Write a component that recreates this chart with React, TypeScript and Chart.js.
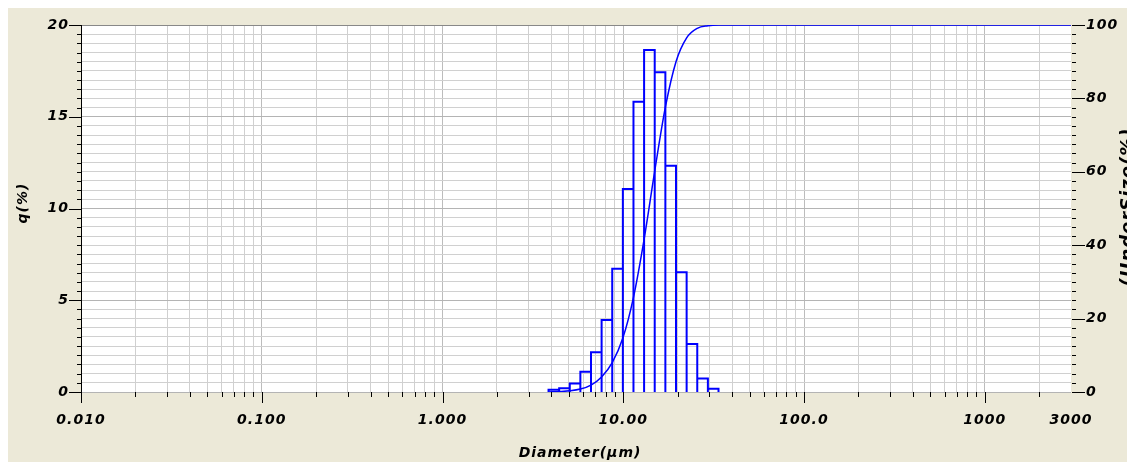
import React, { useEffect, useRef } from 'react';
import { Chart, registerables } from 'chart.js';

Chart.register(...registerables);

// ---- data ----
const binEdges = [3.86, 4.42, 5.06, 5.79, 6.63, 7.59, 8.69, 9.95, 11.39, 13.04, 14.93, 17.1, 19.58, 22.42, 25.67, 29.39, 33.65];
const qPercent = [0.12, 0.2, 0.47, 1.11, 2.16, 3.92, 6.72, 11.06, 15.82, 18.64, 17.42, 12.33, 6.52, 2.62, 0.73, 0.18];
const underSizeX = [3.86, 4.42, 5.06, 5.79, 6.63, 7.59, 8.69, 9.95, 11.39, 13.04, 14.93, 17.1, 19.58, 22.42, 25.67, 29.39, 33.65, 3000];
const underSizeY = [0, 0.12, 0.32, 0.8, 1.9, 4.1, 8.0, 14.7, 25.8, 41.6, 60.2, 77.6, 90.0, 96.5, 99.1, 99.8, 100, 100];

const xMin = 0.01;
const xMax = 3000;
const xTickValues = [0.01, 0.1, 1, 10, 100, 1000, 3000];
const xTickLabels = ['0.010', '0.100', '1.000', '10.00', '100.0', '1000', '3000'];
const xDecades = [0.01, 0.1, 1, 10, 100, 1000];
const qMax = 20;
const qMinorStep = 0.5;
const qMajorStep = 5;
const usMax = 100;
const usMinorStep = 2.5;
const usMajorStep = 20;

const xTitle = 'Diameter(μm)';
const yTitle = 'q(%)';
const y2Title = '(UnderSize(%)';

// ---- derived helpers ----
const xGrid: number[] = [];
xDecades.forEach((d) => {
  for (let m = 1; m <= 9; m++) {
    const v = +(d * m).toPrecision(6);
    if (v <= xMax) xGrid.push(v);
  }
});
if (!xGrid.includes(xMax)) xGrid.push(xMax);

const stepsTo = (max: number, step: number) => {
  const out: number[] = [];
  for (let i = 0; i * step <= max + 1e-9; i++) out.push(+(i * step).toFixed(4));
  return out;
};
const qTicks = stepsTo(qMax, qMinorStep);
const usTicks = stepsTo(usMax, usMinorStep);

const isDecade = (v: number) => xDecades.some((d) => Math.abs(d - v) / d < 1e-6);
const isMult = (v: number, m: number) => Math.abs(v / m - Math.round(v / m)) < 1e-6;

const histPoints: { x: number; y: number }[] = [];
qPercent.forEach((q, i) => {
  histPoints.push({ x: binEdges[i], y: 0 }, { x: binEdges[i], y: q }, { x: binEdges[i + 1], y: q });
});
histPoints.push({ x: binEdges[binEdges.length - 1], y: 0 });

const curvePoints = underSizeX.map((x, i) => ({ x, y: underSizeY[i] }));

const FONT_FAMILY = '"DejaVu Sans"';
const tickFont = { family: FONT_FAMILY, size: 14, weight: 'bold' as const, style: 'italic' as const };

const zeroPad = (s: any) => {
  s.paddingTop = 0;
  s.paddingBottom = 0;
  s.paddingLeft = 0;
  s.paddingRight = 0;
};

const decorPlugin = {
  id: 'decor',
  beforeDraw(chart: any) {
    const { ctx, chartArea: a } = chart;
    ctx.letterSpacing = '1px';
    ctx.save();
    ctx.fillStyle = '#ffffff';
    ctx.fillRect(a.left, a.top, a.right - a.left, a.bottom - a.top);
    ctx.restore();
  },
  afterDraw(chart: any) {
    const { ctx, chartArea: a, scales } = chart;
    const xs = scales.x;
    const ys = scales.y;
    const y2s = scales.y2;
    const al = (v: number) => Math.round(v) + 0.5;
    ctx.save();
    ctx.strokeStyle = '#000000';
    ctx.lineWidth = 1;
    ctx.beginPath();
    // left axis line (extends down into the first decade tick)
    ctx.moveTo(al(a.left), a.top);
    ctx.lineTo(al(a.left), a.bottom + 11);
    // left ticks
    ys.ticks.forEach((t: any) => {
      const py = al(ys.getPixelForValue(t.value));
      const len = isMult(t.value, qMajorStep) ? 12 : 4;
      ctx.moveTo(a.left - len, py);
      ctx.lineTo(a.left, py);
    });
    // bottom ticks
    xs.ticks.forEach((t: any) => {
      if (t.value >= xMax) return;
      const px = al(xs.getPixelForValue(t.value));
      const len = isDecade(t.value) ? 11 : 5;
      ctx.moveTo(px, a.bottom);
      ctx.lineTo(px, a.bottom + len);
    });
    // right ticks
    y2s.ticks.forEach((t: any) => {
      const py = al(y2s.getPixelForValue(t.value));
      const len = isMult(t.value, usMajorStep) ? 13 : 4;
      ctx.moveTo(a.right + 1, py);
      ctx.lineTo(a.right + 1 + len, py);
    });
    ctx.stroke();

    // titles
    ctx.fillStyle = '#000000';
    ctx.font = `italic bold 14px ${FONT_FAMILY}`;
    ctx.textAlign = 'center';
    ctx.textBaseline = 'middle';
    ctx.fillText(xTitle, 572, 445);

    ctx.save();
    ctx.translate(15, 195);
    ctx.rotate(-Math.PI / 2);
    ctx.fillText(yTitle, 0, 0);
    ctx.restore();

    ctx.save();
    ctx.font = `italic bold 18px ${FONT_FAMILY}`;
    ctx.textBaseline = 'alphabetic';
    ctx.translate(1125, 199);
    ctx.rotate(-Math.PI / 2);
    ctx.fillText(y2Title, 0, 0);
    ctx.restore();

    ctx.restore();
  },
};

export default function App() {
  const ref = useRef<HTMLCanvasElement>(null);
  useEffect(() => {
    document.body.style.overflow = 'hidden';
    document.documentElement.style.overflow = 'hidden';
    const chart = new Chart(ref.current as HTMLCanvasElement, {
      type: 'line',
      data: {
        datasets: [
          {
            label: 'UnderSize',
            data: curvePoints,
            xAxisID: 'x',
            yAxisID: 'y2',
            borderColor: '#0000ff',
            borderWidth: 1.5,
            pointRadius: 0,
            cubicInterpolationMode: 'monotone',
            fill: false,
          },
          {
            label: 'q',
            data: histPoints,
            xAxisID: 'x',
            yAxisID: 'y',
            borderColor: '#0000ff',
            borderWidth: 2,
            pointRadius: 0,
            tension: 0,
            fill: false,
          },
        ],
      },
      options: {
        responsive: false,
        maintainAspectRatio: false,
        devicePixelRatio: 1,
        animation: false,
        events: [],
        layout: { padding: { top: 17, left: 0, right: 0, bottom: 0 } },
        plugins: {
          legend: { display: false },
          tooltip: { enabled: false },
          title: { display: false },
        },
        scales: {
          x: {
            type: 'logarithmic',
            position: 'bottom',
            min: xMin,
            max: xMax,
            afterBuildTicks: (s: any) => {
              s.ticks = xGrid.map((v) => ({ value: v, major: isDecade(v) }));
            },
            afterFit: (s: any) => {
              s.height = 70;
              zeroPad(s);
            },
            border: { display: false },
            grid: {
              drawTicks: false,
              lineWidth: 1,
              color: (c: any) => {
                const v = c.tick ? c.tick.value : 0;
                if (v >= xMax) return 'rgba(0,0,0,0)';
                return isDecade(v) ? '#bcbcbc' : '#d0d0d0';
              },
            },
            ticks: {
              autoSkip: false,
              maxRotation: 0,
              minRotation: 0,
              padding: 20,
              color: '#000000',
              font: tickFont,
              callback: (v: any) => {
                const i = xTickValues.findIndex((t) => Math.abs(t - Number(v)) / t < 1e-6);
                return i >= 0 ? xTickLabels[i] : '';
              },
            },
          },
          y: {
            type: 'linear',
            position: 'left',
            min: 0,
            max: qMax,
            afterBuildTicks: (s: any) => {
              s.ticks = qTicks.map((v) => ({ value: v }));
            },
            afterFit: (s: any) => {
              s.width = 73;
              zeroPad(s);
            },
            border: { display: false },
            grid: {
              drawTicks: false,
              lineWidth: 1,
              color: (c: any) => {
                const v = c.tick ? c.tick.value : 0;
                if (v >= qMax) return '#888888';
                return isMult(v, qMajorStep) ? '#b4b4b4' : '#d0d0d0';
              },
            },
            ticks: {
              autoSkip: false,
              padding: 12,
              color: '#000000',
              font: tickFont,
              callback: (v: any) => (isMult(Number(v), qMajorStep) ? String(v) : ''),
            },
          },
          y2: {
            type: 'linear',
            position: 'right',
            min: 0,
            max: usMax,
            afterBuildTicks: (s: any) => {
              s.ticks = usTicks.map((v) => ({ value: v }));
            },
            afterFit: (s: any) => {
              s.width = 64;
              zeroPad(s);
            },
            border: { display: false },
            grid: { drawOnChartArea: false, drawTicks: false },
            ticks: {
              autoSkip: false,
              padding: 15,
              color: '#000000',
              font: tickFont,
              callback: (v: any) => (isMult(Number(v), usMajorStep) ? String(v) : ''),
            },
          },
        },
      } as any,
      plugins: [decorPlugin],
    });
    return () => chart.destroy();
  }, []);
  return (
    <div style={{ width: 1127, height: 454, background: '#ECE9D8' }}>
      <canvas ref={ref} width={1127} height={454} style={{ display: 'block' }} />
    </div>
  );
}
